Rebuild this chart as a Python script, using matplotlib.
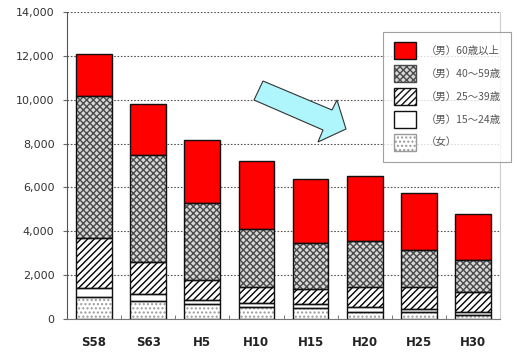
import matplotlib
matplotlib.use("Agg")
import matplotlib.pyplot as plt
import numpy as np
from matplotlib.patches import Patch, Polygon

plt.rcParams['font.family'] = ['Noto Sans CJK JP', 'DejaVu Sans']

categories = ["S58", "S63", "H5", "H10", "H15", "H20", "H25", "H30"]
women = [1000, 800, 700, 550, 500, 300, 300, 200]
m15_24 = [400, 350, 150, 200, 200, 230, 140, 130]
m25_39 = [2300, 1450, 950, 700, 650, 940, 1000, 920]
m40_59 = [6450, 4900, 3500, 2650, 2100, 2080, 1710, 1450]
m60 = [1950, 2300, 2850, 3100, 2950, 2950, 2600, 2100]
series_labels = ["（男）60歳以上", "（男）40～59歳", "（男）25～39歳", "（男）15～24歳", "（女）"]
yticks = [0, 2000, 4000, 6000, 8000, 10000, 12000, 14000]

fig = plt.figure(figsize=(5.17, 3.55), dpi=100)
ax = fig.add_axes([67/517, 1-319/355, (500-67)/517, (319-12)/355])

x = np.arange(len(categories))
w = 0.66

styles = [
    dict(fc="white", hatch="....", hc="#9a9a9a"),   # women
    dict(fc="white", hatch=None, hc="black"),       # 15-24
    dict(fc="white", hatch="/////", hc="black"),    # 25-39
    dict(fc="#d8d8d8", hatch="xxxxx", hc="#4a4a4a"),  # 40-59
    dict(fc="#ff0000", hatch=None, hc="black"),     # 60+
]
data = [women, m15_24, m25_39, m40_59, m60]
bottom = np.zeros(len(categories))
for vals, st in zip(data, styles):
    vals = np.array(vals, dtype=float)
    if st["hatch"]:
        ax.bar(x, vals, w, bottom=bottom, facecolor=st["fc"], hatch=st["hatch"],
               edgecolor=st["hc"], linewidth=0, zorder=2)
    else:
        ax.bar(x, vals, w, bottom=bottom, facecolor=st["fc"], linewidth=0, zorder=2)
    ax.bar(x, vals, w, bottom=bottom, fill=False, edgecolor="#111111", linewidth=1.0, zorder=3)
    bottom += vals

ax.set_xlim(-0.5, len(categories) - 0.5)
ax.set_ylim(0, 14000)
ax.set_yticks(yticks)
ax.set_yticklabels([f"{v:,}" for v in yticks], fontsize=8, color="#333333", family="DejaVu Sans")
ax.set_xticks(x)
ax.set_xticklabels(categories, fontsize=8.5, fontweight="bold", color="#222222", family="DejaVu Sans")
ax.tick_params(axis="x", length=0, pad=12)
ax.set_xticks(np.arange(-0.5, len(categories), 1), minor=True)
ax.tick_params(axis="x", which="minor", length=3, direction="in", color="#666666")
ax.tick_params(axis="y", length=3, color="#666666", pad=6)

ax.yaxis.grid(True, linestyle=(0, (1.5, 1.5)), color="#555555", linewidth=0.8, zorder=0)
ax.set_axisbelow(True)
ax.spines["top"].set_visible(False)
ax.spines["right"].set_color("#cccccc")
ax.spines["left"].set_color("#555555")
ax.spines["bottom"].set_color("#777777")

# Arrow (decorative)
def px(xp, yp):
    return (xp/517, 1 - yp/355)
arrow_pts = [px(263, 81), px(332, 110), px(337, 100), px(346, 129),
             px(318, 142), px(323, 130), px(254, 100)]
fig.patches.append(Polygon(arrow_pts, closed=True, transform=fig.transFigure,
                           facecolor="#aef6fb", edgecolor="#333333", linewidth=0.8, zorder=5))

# Legend
handles = [
    Patch(facecolor="#ff0000", edgecolor="#111111", label=series_labels[0]),
    Patch(facecolor="#d8d8d8", edgecolor="#4a4a4a", hatch="xxxxx", label=series_labels[1]),
    Patch(facecolor="white", edgecolor="#111111", hatch="/////", label=series_labels[2]),
    Patch(facecolor="white", edgecolor="#111111", label=series_labels[3]),
    Patch(facecolor="white", edgecolor="#9a9a9a", hatch="....", label=series_labels[4]),
]
leg = ax.legend(handles=handles, loc="upper left", bbox_to_anchor=(0.73, 0.935),
                fontsize=7.5, frameon=True, fancybox=False, edgecolor="#888888",
                handlelength=2.2, handleheight=2.13, labelspacing=0.58, borderpad=1.0,
                handletextpad=0.9, borderaxespad=0)
leg.get_frame().set_linewidth(0.8)
for t in leg.get_texts():
    t.set_color("#555555")
leg.set_zorder(6)

fig.savefig("out.png", dpi=100)
